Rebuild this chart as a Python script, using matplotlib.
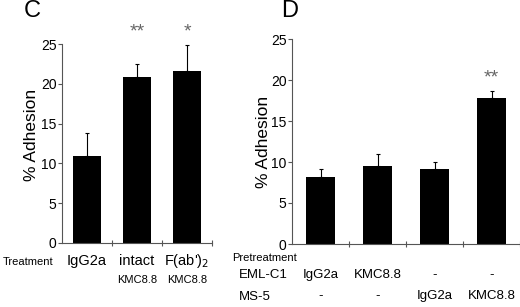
import matplotlib
matplotlib.use("Agg")
import matplotlib.pyplot as plt

plt.rcParams['font.family'] = ['Liberation Sans', 'DejaVu Sans']

# panel C
c_labels = ["IgG2a", "intact", "F(ab')$_2$"]
c_sub = ["", "KMC8.8", "KMC8.8"]
c_vals = [10.9, 20.9, 21.6]
c_err = [2.9, 1.6, 3.3]
c_stars = ["", "**", "*"]

# panel D
d_eml = ["IgG2a", "KMC8.8", "-", "-"]
d_ms5 = ["-", "-", "IgG2a", "KMC8.8"]
d_vals = [8.2, 9.5, 9.2, 17.8]
d_err = [0.9, 1.5, 0.8, 0.9]
d_stars = ["", "", "", "**"]

yticks = [0, 5, 10, 15, 20, 25]

fig = plt.figure(figsize=(5.2, 3.07), dpi=100)
W, H = 520.0, 307.0


def ax_px(x0, x1, ytop, ybot):
    return fig.add_axes([x0 / W, 1 - ybot / H, (x1 - x0) / W, (ybot - ytop) / H])


def style(ax, n):
    ax.set_ylim(0, 25)
    ax.set_xlim(0, n)
    ax.set_yticks(yticks)
    ax.set_xticks(range(1, n + 1))
    ax.set_xticklabels([])
    for s in ["top", "right"]:
        ax.spines[s].set_visible(False)
    for s in ["left", "bottom"]:
        ax.spines[s].set_color("#555555")
        ax.spines[s].set_linewidth(0.8)
    ax.tick_params(axis="y", direction="out", length=3, width=0.8, color="#555555",
                   labelsize=10, pad=1)
    ax.tick_params(axis="x", direction="inout", length=5, width=0.8, color="#555555")
    ax.patch.set_alpha(0)


def bars(ax, vals, err, stars, width, star_floor):
    xs = [i + 0.5 for i in range(len(vals))]
    ax.bar(xs, vals, width=width, color="black", zorder=2)
    ax.errorbar(xs, vals, yerr=[[0] * len(vals), err], fmt="none", ecolor="black",
                elinewidth=0.8, capsize=1.5, capthick=0.8, zorder=1)
    for x, v, e, s in zip(xs, vals, err, stars):
        if s:
            ax.text(x, max(v + e + 1.6, star_floor), s, ha="center", va="center",
                    fontsize=14, color="#666666", clip_on=False)
    return xs


# C
axc = ax_px(62, 212, 44, 243)
style(axc, 3)
xs = bars(axc, c_vals, c_err, c_stars, 0.55, 26.5)
for x, lab, sub in zip(xs, c_labels, c_sub):
    axc.text(x, -2.2, lab, ha="center", va="center", fontsize=10.5, clip_on=False)
    if sub:
        axc.text(x, -4.7, sub, ha="center", va="center", fontsize=8, clip_on=False)
fig.text(3 / W, 1 - 262 / H, "Treatment", ha="left", va="center", fontsize=8)
fig.text(32 / W, 1 - 11 / H, "C", ha="center", va="center", fontsize=17)
fig.text(31 / W, 1 - 135 / H, "% Adhesion", rotation=90, ha="center", va="center",
         fontsize=12.5)

# D
axd = ax_px(292, 520, 39, 244)
style(axd, 4)
xs = bars(axd, d_vals, d_err, d_stars, 0.5, 0)
for x, a, b in zip(xs, d_eml, d_ms5):
    axd.text(x, -3.8, a, ha="center", va="center", fontsize=9.5, clip_on=False)
    axd.text(x, -6.3, b, ha="center", va="center", fontsize=9.5, clip_on=False)
fig.text(232 / W, 1 - 258 / H, "Pretreatment", ha="left", va="center", fontsize=8)
fig.text(239 / W, 1 - 275 / H, "EML-C1", ha="left", va="center", fontsize=9.5)
fig.text(239 / W, 1 - 297 / H, "MS-5", ha="left", va="center", fontsize=9.5)
fig.text(290 / W, 1 - 11 / H, "D", ha="center", va="center", fontsize=17)
fig.text(264 / W, 1 - 141.5 / H, "% Adhesion", rotation=90, ha="center", va="center",
         fontsize=12.5)

fig.savefig("out.png", dpi=100)
